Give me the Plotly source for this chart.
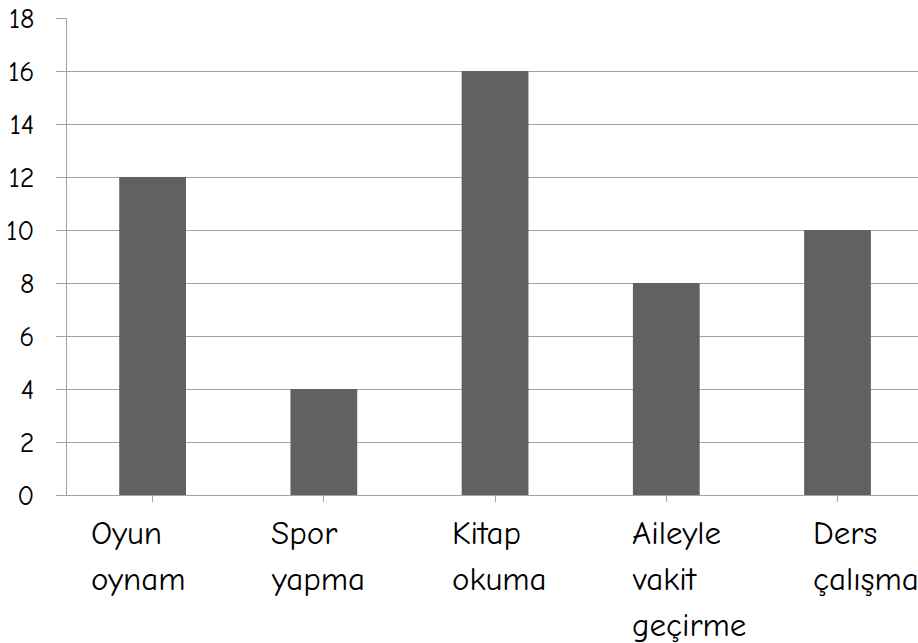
import plotly.graph_objects as go

categories = ["Oyun<br>oynam", "Spor<br>yapma", "Kitap<br>okuma", "Aileyle<br>vakit<br>geçirme", "Ders<br>çalışma"]
values = [12, 4, 16, 8, 10]
y_ticks = [0, 2, 4, 6, 8, 10, 12, 14, 16, 18]

FONT = "Comic Sans MS, Comic Neue, DejaVu Sans, sans-serif"
GRID = "#a3a3a3"
BAR = "#616161"

idx = list(range(len(categories)))
fig = go.Figure(go.Bar(x=idx, y=values, marker=dict(color=BAR, line=dict(width=0)), width=0.39))

annotations = []
for i, lab in enumerate(categories):
    for j, line in enumerate(lab.split("<br>")):
        annotations.append(dict(
            x=i, y=0, xref="x", yref="y", text=line, showarrow=False,
            xanchor="left", yanchor="middle",
            xshift=-64 + 9.3 * i, yshift=-38 - 46 * j,
            font=dict(family=FONT, size=33, color="#000000"),
        ))

fig.update_layout(
    width=918, height=643,
    margin=dict(l=67, r=0, t=18, b=148),
    paper_bgcolor="white", plot_bgcolor="white",
    showlegend=False,
    annotations=annotations,
    xaxis=dict(
        range=[-0.5, 4.47], tickmode="array", tickvals=idx, ticktext=[""] * len(idx),
        showgrid=False, showline=True, linecolor=GRID, linewidth=1,
        ticks="outside", tickson="boundaries", ticklen=6, tickcolor=GRID,
        zeroline=False, fixedrange=True,
    ),
    yaxis=dict(
        range=[0, 18], tickmode="array", tickvals=y_ticks,
        showgrid=True, gridcolor=GRID, gridwidth=1,
        showline=True, linecolor=GRID, linewidth=1,
        ticks="outside", ticklen=10, tickcolor=GRID,
        ticklabelstandoff=16, ticklabeloverflow="allow",
        tickfont=dict(family=FONT, size=28, color="#000000"),
        zeroline=False, fixedrange=True,
    ),
)

fig.write_html(
    "out.html",
    config={"displayModeBar": False},
    post_script="document.body.style.margin='0';document.body.style.overflow='hidden';",
)
